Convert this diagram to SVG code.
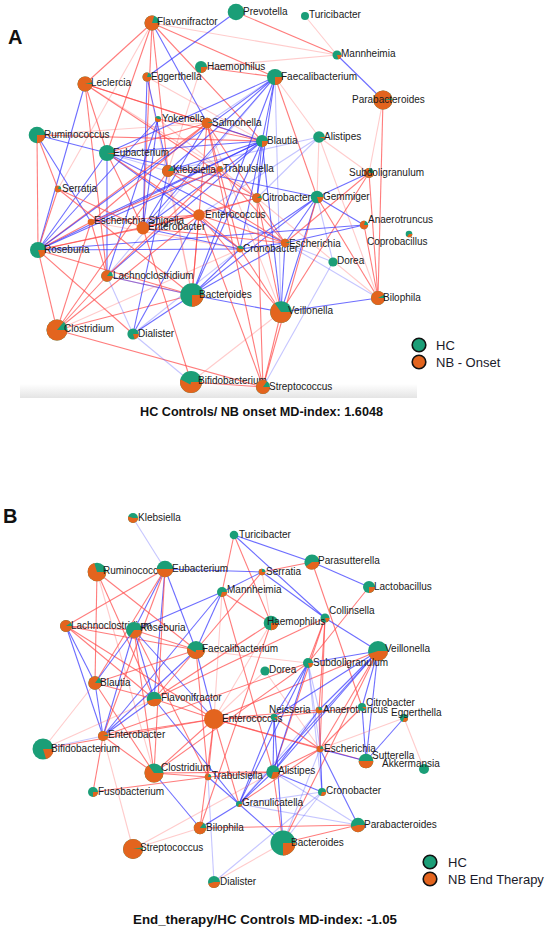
<svg xmlns="http://www.w3.org/2000/svg" width="550" height="931" viewBox="0 0 550 931">
<style>
.bg{fill:#fff}
.e line{stroke-width:1.1;fill:none}
.r{stroke:#ff4a4a;stroke-opacity:.72}
.rl{stroke:#ff5c5c;stroke-opacity:.32}
.b{stroke:#3434ff;stroke-opacity:.72}
.bl{stroke:#4a4aff;stroke-opacity:.32}
.g{fill:#1b9e77}
.o{fill:#e3641e}
.w{fill:none;stroke:#e3641e}
.t{font-family:"Liberation Sans",Arial,sans-serif;font-size:10px;fill:#1a1a1a}
.lg{font-family:"Liberation Sans",Arial,sans-serif;font-size:13px;fill:#1a1a2a}
.ttl{font-family:"Liberation Sans",Arial,sans-serif;font-weight:bold;fill:#111}
.lc{stroke:#111;stroke-width:1.6}
</style>
<defs>
<linearGradient id="band" x1="0" y1="0" x2="0" y2="1">
<stop offset="0" stop-color="#fff"/>
<stop offset="1" stop-color="#e4e4e4"/>
</linearGradient>
</defs>
<rect class="bg" x="0" y="0" width="550" height="931"/>
<rect x="20" y="384" width="397" height="14" fill="url(#band)"/>
<text class="ttl" x="8" y="44" font-size="20">A</text>
<text class="ttl" x="3" y="523" font-size="20">B</text>

<g id="connectors-a" class="e">
<line class="r" x1="152" y1="23" x2="85" y2="84"/>
<line class="r" x1="152" y1="23" x2="107" y2="153"/>
<line class="r" x1="152" y1="23" x2="143" y2="228"/>
<line class="r" x1="152" y1="23" x2="168" y2="171"/>
<line class="r" x1="152" y1="23" x2="275" y2="77"/>
<line class="r" x1="152" y1="23" x2="262" y2="141"/>
<line class="rl" x1="152" y1="23" x2="58" y2="189"/>
<line class="rl" x1="152" y1="23" x2="337" y2="55"/>
<line class="b" x1="152" y1="23" x2="207" y2="123"/>
<line class="b" x1="236" y1="12" x2="147" y2="77"/>
<line class="r" x1="236" y1="12" x2="337" y2="55"/>
<line class="rl" x1="305" y1="16" x2="337" y2="55"/>
<line class="b" x1="337" y1="55" x2="383" y2="100"/>
<line class="rl" x1="201" y1="67" x2="337" y2="55"/>
<line class="r" x1="201" y1="67" x2="275" y2="77"/>
<line class="rl" x1="201" y1="67" x2="168" y2="171"/>
<line class="b" x1="147" y1="77" x2="143" y2="228"/>
<line class="rl" x1="147" y1="77" x2="262" y2="141"/>
<line class="rl" x1="147" y1="77" x2="192" y2="295"/>
<line class="b" x1="147" y1="77" x2="168" y2="171"/>
<line class="b" x1="85" y1="84" x2="38" y2="250"/>
<line class="r" x1="85" y1="84" x2="107" y2="153"/>
<line class="r" x1="85" y1="84" x2="207" y2="123"/>
<line class="r" x1="85" y1="84" x2="262" y2="141"/>
<line class="rl" x1="85" y1="84" x2="220" y2="169"/>
<line class="r" x1="85" y1="84" x2="257" y2="198"/>
<line class="r" x1="85" y1="84" x2="107" y2="276"/>
<line class="r" x1="37" y1="135" x2="262" y2="141"/>
<line class="b" x1="37" y1="135" x2="107" y2="153"/>
<line class="r" x1="37" y1="135" x2="58" y2="189"/>
<line class="r" x1="37" y1="135" x2="38" y2="250"/>
<line class="b" x1="37" y1="135" x2="91" y2="222"/>
<line class="rl" x1="37" y1="135" x2="207" y2="123"/>
<line class="b" x1="107" y1="153" x2="275" y2="77"/>
<line class="b" x1="107" y1="153" x2="262" y2="141"/>
<line class="b" x1="107" y1="153" x2="317" y2="197"/>
<line class="b" x1="107" y1="153" x2="240" y2="249"/>
<line class="r" x1="107" y1="153" x2="199" y2="215"/>
<line class="b" x1="107" y1="153" x2="285" y2="243"/>
<line class="r" x1="107" y1="153" x2="207" y2="123"/>
<line class="b" x1="107" y1="153" x2="107" y2="276"/>
<line class="b" x1="107" y1="153" x2="38" y2="250"/>
<line class="r" x1="107" y1="153" x2="143" y2="228"/>
<line class="bl" x1="107" y1="153" x2="257" y2="198"/>
<line class="b" x1="158" y1="119" x2="38" y2="250"/>
<line class="b" x1="158" y1="119" x2="107" y2="276"/>
<line class="b" x1="158" y1="119" x2="143" y2="228"/>
<line class="r" x1="158" y1="119" x2="262" y2="141"/>
<line class="rl" x1="158" y1="119" x2="257" y2="198"/>
<line class="b" x1="207" y1="123" x2="262" y2="141"/>
<line class="r" x1="207" y1="123" x2="38" y2="250"/>
<line class="r" x1="207" y1="123" x2="91" y2="222"/>
<line class="r" x1="207" y1="123" x2="240" y2="249"/>
<line class="r" x1="207" y1="123" x2="285" y2="243"/>
<line class="r" x1="207" y1="123" x2="192" y2="295"/>
<line class="rl" x1="207" y1="123" x2="281" y2="312"/>
<line class="b" x1="207" y1="123" x2="143" y2="228"/>
<line class="b" x1="262" y1="141" x2="275" y2="77"/>
<line class="b" x1="262" y1="141" x2="192" y2="295"/>
<line class="b" x1="262" y1="141" x2="281" y2="312"/>
<line class="b" x1="262" y1="141" x2="240" y2="249"/>
<line class="b" x1="262" y1="141" x2="91" y2="222"/>
<line class="b" x1="262" y1="141" x2="143" y2="228"/>
<line class="b" x1="262" y1="141" x2="107" y2="276"/>
<line class="b" x1="262" y1="141" x2="38" y2="250"/>
<line class="b" x1="262" y1="141" x2="168" y2="171"/>
<line class="b" x1="262" y1="141" x2="257" y2="198"/>
<line class="rl" x1="275" y1="77" x2="319" y2="137"/>
<line class="r" x1="275" y1="77" x2="317" y2="197"/>
<line class="b" x1="275" y1="77" x2="192" y2="295"/>
<line class="b" x1="275" y1="77" x2="38" y2="250"/>
<line class="b" x1="275" y1="77" x2="143" y2="228"/>
<line class="bl" x1="275" y1="77" x2="107" y2="276"/>
<line class="b" x1="275" y1="77" x2="257" y2="198"/>
<line class="bl" x1="275" y1="77" x2="281" y2="312"/>
<line class="b" x1="275" y1="77" x2="168" y2="171"/>
<line class="bl" x1="275" y1="77" x2="207" y2="123"/>
<line class="rl" x1="319" y1="137" x2="369" y2="173"/>
<line class="rl" x1="319" y1="137" x2="317" y2="197"/>
<line class="bl" x1="319" y1="137" x2="257" y2="198"/>
<line class="rl" x1="319" y1="137" x2="378" y2="298"/>
<line class="bl" x1="319" y1="137" x2="168" y2="171"/>
<line class="bl" x1="319" y1="137" x2="199" y2="215"/>
<line class="rl" x1="383" y1="100" x2="369" y2="173"/>
<line class="r" x1="383" y1="100" x2="378" y2="298"/>
<line class="b" x1="369" y1="173" x2="317" y2="197"/>
<line class="r" x1="369" y1="173" x2="378" y2="298"/>
<line class="r" x1="369" y1="173" x2="281" y2="312"/>
<line class="r" x1="369" y1="173" x2="285" y2="243"/>
<line class="b" x1="317" y1="197" x2="364" y2="225"/>
<line class="b" x1="317" y1="197" x2="285" y2="243"/>
<line class="b" x1="317" y1="197" x2="281" y2="312"/>
<line class="r" x1="317" y1="197" x2="378" y2="298"/>
<line class="b" x1="317" y1="197" x2="192" y2="295"/>
<line class="b" x1="317" y1="197" x2="240" y2="249"/>
<line class="r" x1="317" y1="197" x2="263" y2="387"/>
<line class="bl" x1="317" y1="197" x2="333" y2="262"/>
<line class="b" x1="364" y1="225" x2="38" y2="250"/>
<line class="b" x1="364" y1="225" x2="285" y2="243"/>
<line class="r" x1="364" y1="225" x2="378" y2="298"/>
<line class="b" x1="378" y1="298" x2="281" y2="312"/>
<line class="bl" x1="378" y1="298" x2="285" y2="243"/>
<line class="rl" x1="378" y1="298" x2="257" y2="198"/>
<line class="b" x1="281" y1="312" x2="192" y2="295"/>
<line class="r" x1="281" y1="312" x2="263" y2="387"/>
<line class="rl" x1="281" y1="312" x2="191" y2="382"/>
<line class="b" x1="281" y1="312" x2="285" y2="243"/>
<line class="r" x1="281" y1="312" x2="257" y2="198"/>
<line class="b" x1="192" y1="295" x2="107" y2="276"/>
<line class="rl" x1="192" y1="295" x2="107" y2="276"/>
<line class="b" x1="192" y1="295" x2="133" y2="334"/>
<line class="r" x1="192" y1="295" x2="38" y2="250"/>
<line class="b" x1="192" y1="295" x2="240" y2="249"/>
<line class="b" x1="192" y1="295" x2="285" y2="243"/>
<line class="r" x1="192" y1="295" x2="199" y2="215"/>
<line class="r" x1="192" y1="295" x2="57" y2="330"/>
<line class="r" x1="57" y1="330" x2="263" y2="387"/>
<line class="r" x1="57" y1="330" x2="91" y2="222"/>
<line class="r" x1="57" y1="330" x2="199" y2="215"/>
<line class="rl" x1="57" y1="330" x2="240" y2="249"/>
<line class="r" x1="57" y1="330" x2="168" y2="171"/>
<line class="r" x1="57" y1="330" x2="107" y2="276"/>
<line class="bl" x1="133" y1="334" x2="107" y2="276"/>
<line class="r" x1="133" y1="334" x2="38" y2="250"/>
<line class="bl" x1="133" y1="334" x2="191" y2="382"/>
<line class="b" x1="133" y1="334" x2="199" y2="215"/>
<line class="b" x1="133" y1="334" x2="168" y2="171"/>
<line class="bl" x1="133" y1="334" x2="240" y2="249"/>
<line class="r" x1="191" y1="382" x2="263" y2="387"/>
<line class="r" x1="191" y1="382" x2="143" y2="228"/>
<line class="bl" x1="263" y1="387" x2="333" y2="262"/>
<line class="r" x1="263" y1="387" x2="199" y2="215"/>
<line class="r" x1="263" y1="387" x2="257" y2="198"/>
<line class="r" x1="263" y1="387" x2="207" y2="123"/>
<line class="b" x1="38" y1="250" x2="240" y2="249"/>
<line class="r" x1="38" y1="250" x2="91" y2="222"/>
<line class="r" x1="38" y1="250" x2="143" y2="228"/>
<line class="r" x1="38" y1="250" x2="199" y2="215"/>
<line class="r" x1="38" y1="250" x2="57" y2="330"/>
<line class="r" x1="91" y1="222" x2="199" y2="215"/>
<line class="rl" x1="91" y1="222" x2="240" y2="249"/>
<line class="r" x1="91" y1="222" x2="107" y2="276"/>
<line class="r" x1="143" y1="228" x2="199" y2="215"/>
<line class="b" x1="143" y1="228" x2="240" y2="249"/>
<line class="r" x1="143" y1="228" x2="285" y2="243"/>
<line class="r" x1="143" y1="228" x2="257" y2="198"/>
<line class="r" x1="168" y1="171" x2="220" y2="169"/>
<line class="r" x1="168" y1="171" x2="257" y2="198"/>
<line class="r" x1="168" y1="171" x2="285" y2="243"/>
<line class="rl" x1="168" y1="171" x2="192" y2="295"/>
<line class="b" x1="220" y1="169" x2="38" y2="250"/>
<line class="r" x1="220" y1="169" x2="91" y2="222"/>
<line class="r" x1="220" y1="169" x2="107" y2="276"/>
<line class="r" x1="220" y1="169" x2="285" y2="243"/>
<line class="r" x1="199" y1="215" x2="285" y2="243"/>
<line class="r" x1="199" y1="215" x2="240" y2="249"/>
<line class="r" x1="199" y1="215" x2="257" y2="198"/>
<line class="r" x1="199" y1="215" x2="281" y2="312"/>
<line class="b" x1="240" y1="249" x2="285" y2="243"/>
<line class="r" x1="240" y1="249" x2="281" y2="312"/>
<line class="bl" x1="333" y1="262" x2="285" y2="243"/>
<line class="r" x1="58" y1="189" x2="38" y2="250"/>
<line class="r" x1="58" y1="189" x2="143" y2="228"/>
<line class="r" x1="58" y1="189" x2="192" y2="295"/>
</g>

<g id="connectors-b" class="e">
<line class="bl" x1="133" y1="518" x2="165" y2="569"/>
<line class="b" x1="234" y1="535" x2="312" y2="562"/>
<line class="b" x1="234" y1="535" x2="325" y2="618"/>
<line class="r" x1="234" y1="535" x2="222" y2="592"/>
<line class="r" x1="234" y1="535" x2="271" y2="623"/>
<line class="b" x1="165" y1="569" x2="262" y2="572"/>
<line class="r" x1="165" y1="569" x2="66" y2="626"/>
<line class="b" x1="165" y1="569" x2="134" y2="630"/>
<line class="r" x1="165" y1="569" x2="95" y2="683"/>
<line class="b" x1="165" y1="569" x2="196" y2="650"/>
<line class="b" x1="165" y1="569" x2="154" y2="699"/>
<line class="r" x1="165" y1="569" x2="103" y2="736"/>
<line class="r" x1="165" y1="569" x2="154" y2="773"/>
<line class="r" x1="262" y1="572" x2="312" y2="562"/>
<line class="b" x1="262" y1="572" x2="222" y2="592"/>
<line class="b" x1="262" y1="572" x2="325" y2="618"/>
<line class="rl" x1="262" y1="572" x2="271" y2="623"/>
<line class="r" x1="262" y1="572" x2="196" y2="650"/>
<line class="b" x1="312" y1="562" x2="369" y2="587"/>
<line class="r" x1="312" y1="562" x2="362" y2="707"/>
<line class="r" x1="369" y1="587" x2="308" y2="663"/>
<line class="b" x1="222" y1="592" x2="134" y2="630"/>
<line class="b" x1="222" y1="592" x2="196" y2="650"/>
<line class="r" x1="222" y1="592" x2="271" y2="623"/>
<line class="rl" x1="222" y1="592" x2="214" y2="719"/>
<line class="b" x1="222" y1="592" x2="103" y2="736"/>
<line class="r" x1="222" y1="592" x2="273" y2="772"/>
<line class="b" x1="325" y1="618" x2="378" y2="651"/>
<line class="r" x1="325" y1="618" x2="308" y2="663"/>
<line class="r" x1="325" y1="618" x2="320" y2="749"/>
<line class="r" x1="325" y1="618" x2="319" y2="710"/>
<line class="r" x1="325" y1="618" x2="273" y2="772"/>
<line class="r" x1="325" y1="618" x2="154" y2="699"/>
<line class="r" x1="271" y1="623" x2="154" y2="699"/>
<line class="r" x1="271" y1="623" x2="200" y2="828"/>
<line class="rl" x1="271" y1="623" x2="214" y2="719"/>
<line class="r" x1="97" y1="572" x2="95" y2="683"/>
<line class="r" x1="97" y1="572" x2="154" y2="699"/>
<line class="r" x1="97" y1="572" x2="196" y2="650"/>
<line class="rl" x1="97" y1="572" x2="154" y2="773"/>
<line class="b" x1="66" y1="626" x2="95" y2="683"/>
<line class="b" x1="66" y1="626" x2="103" y2="736"/>
<line class="r" x1="66" y1="626" x2="196" y2="650"/>
<line class="r" x1="66" y1="626" x2="134" y2="630"/>
<line class="r" x1="66" y1="626" x2="214" y2="719"/>
<line class="r" x1="66" y1="626" x2="154" y2="699"/>
<line class="b" x1="134" y1="630" x2="95" y2="683"/>
<line class="r" x1="134" y1="630" x2="196" y2="650"/>
<line class="b" x1="134" y1="630" x2="214" y2="719"/>
<line class="b" x1="134" y1="630" x2="103" y2="736"/>
<line class="b" x1="134" y1="630" x2="154" y2="699"/>
<line class="r" x1="134" y1="630" x2="154" y2="773"/>
<line class="r" x1="134" y1="630" x2="208" y2="777"/>
<line class="b" x1="196" y1="650" x2="214" y2="719"/>
<line class="r" x1="196" y1="650" x2="154" y2="699"/>
<line class="b" x1="196" y1="650" x2="103" y2="736"/>
<line class="r" x1="196" y1="650" x2="208" y2="777"/>
<line class="r" x1="196" y1="650" x2="95" y2="683"/>
<line class="rl" x1="196" y1="650" x2="308" y2="663"/>
<line class="b" x1="378" y1="651" x2="308" y2="663"/>
<line class="b" x1="378" y1="651" x2="319" y2="710"/>
<line class="b" x1="378" y1="651" x2="362" y2="707"/>
<line class="b" x1="378" y1="651" x2="366" y2="761"/>
<line class="r" x1="378" y1="651" x2="320" y2="749"/>
<line class="b" x1="378" y1="651" x2="273" y2="772"/>
<line class="b" x1="378" y1="651" x2="274" y2="717"/>
<line class="r" x1="378" y1="651" x2="283" y2="843"/>
<line class="b" x1="378" y1="651" x2="239" y2="804"/>
<line class="r" x1="378" y1="651" x2="214" y2="719"/>
<line class="b" x1="308" y1="663" x2="274" y2="717"/>
<line class="b" x1="308" y1="663" x2="273" y2="772"/>
<line class="bl" x1="308" y1="663" x2="320" y2="749"/>
<line class="bl" x1="308" y1="663" x2="322" y2="792"/>
<line class="bl" x1="308" y1="663" x2="319" y2="710"/>
<line class="b" x1="308" y1="663" x2="239" y2="804"/>
<line class="r" x1="308" y1="663" x2="103" y2="736"/>
<line class="r" x1="308" y1="663" x2="154" y2="773"/>
<line class="rl" x1="265" y1="671" x2="320" y2="749"/>
<line class="rl" x1="265" y1="671" x2="214" y2="719"/>
<line class="b" x1="95" y1="683" x2="103" y2="736"/>
<line class="r" x1="95" y1="683" x2="154" y2="773"/>
<line class="r" x1="95" y1="683" x2="154" y2="699"/>
<line class="rl" x1="95" y1="683" x2="43" y2="749"/>
<line class="b" x1="154" y1="699" x2="103" y2="736"/>
<line class="r" x1="154" y1="699" x2="214" y2="719"/>
<line class="b" x1="154" y1="699" x2="239" y2="804"/>
<line class="rl" x1="154" y1="699" x2="43" y2="749"/>
<line class="r" x1="214" y1="719" x2="274" y2="717"/>
<line class="r" x1="214" y1="719" x2="319" y2="710"/>
<line class="r" x1="214" y1="719" x2="320" y2="749"/>
<line class="r" x1="214" y1="719" x2="154" y2="773"/>
<line class="r" x1="214" y1="719" x2="208" y2="777"/>
<line class="r" x1="214" y1="719" x2="239" y2="804"/>
<line class="r" x1="214" y1="719" x2="43" y2="749"/>
<line class="r" x1="214" y1="719" x2="200" y2="828"/>
<line class="r" x1="214" y1="719" x2="366" y2="761"/>
<line class="b" x1="274" y1="717" x2="283" y2="843"/>
<line class="b" x1="274" y1="717" x2="273" y2="772"/>
<line class="b" x1="274" y1="717" x2="239" y2="804"/>
<line class="r" x1="274" y1="717" x2="362" y2="707"/>
<line class="r" x1="274" y1="717" x2="320" y2="749"/>
<line class="r" x1="319" y1="710" x2="320" y2="749"/>
<line class="b" x1="319" y1="710" x2="273" y2="772"/>
<line class="bl" x1="319" y1="710" x2="239" y2="804"/>
<line class="bl" x1="319" y1="710" x2="322" y2="792"/>
<line class="b" x1="362" y1="707" x2="366" y2="761"/>
<line class="r" x1="362" y1="707" x2="320" y2="749"/>
<line class="b" x1="404" y1="718" x2="366" y2="761"/>
<line class="rl" x1="404" y1="718" x2="424" y2="769"/>
<line class="rl" x1="404" y1="718" x2="320" y2="749"/>
<line class="r" x1="103" y1="736" x2="93" y2="792"/>
<line class="rl" x1="103" y1="736" x2="133" y2="849"/>
<line class="bl" x1="103" y1="736" x2="43" y2="749"/>
<line class="r" x1="103" y1="736" x2="154" y2="773"/>
<line class="r" x1="103" y1="736" x2="214" y2="719"/>
<line class="b" x1="320" y1="749" x2="366" y2="761"/>
<line class="b" x1="320" y1="749" x2="322" y2="792"/>
<line class="b" x1="320" y1="749" x2="358" y2="825"/>
<line class="r" x1="320" y1="749" x2="273" y2="772"/>
<line class="r" x1="320" y1="749" x2="239" y2="804"/>
<line class="bl" x1="320" y1="749" x2="283" y2="843"/>
<line class="b" x1="154" y1="773" x2="200" y2="828"/>
<line class="r" x1="154" y1="773" x2="208" y2="777"/>
<line class="r" x1="154" y1="773" x2="273" y2="772"/>
<line class="b" x1="208" y1="777" x2="239" y2="804"/>
<line class="bl" x1="208" y1="777" x2="214" y2="882"/>
<line class="r" x1="208" y1="777" x2="93" y2="792"/>
<line class="r" x1="208" y1="777" x2="273" y2="772"/>
<line class="b" x1="273" y1="772" x2="322" y2="792"/>
<line class="r" x1="273" y1="772" x2="283" y2="843"/>
<line class="bl" x1="273" y1="772" x2="358" y2="825"/>
<line class="b" x1="273" y1="772" x2="239" y2="804"/>
<line class="b" x1="239" y1="804" x2="200" y2="828"/>
<line class="b" x1="239" y1="804" x2="283" y2="843"/>
<line class="bl" x1="239" y1="804" x2="322" y2="792"/>
<line class="bl" x1="239" y1="804" x2="358" y2="825"/>
<line class="r" x1="200" y1="828" x2="358" y2="825"/>
<line class="rl" x1="200" y1="828" x2="133" y2="849"/>
<line class="bl" x1="322" y1="792" x2="283" y2="843"/>
<line class="rl" x1="214" y1="882" x2="283" y2="843"/>
<line class="bl" x1="214" y1="882" x2="322" y2="792"/>
<line class="r" x1="358" y1="825" x2="283" y2="843"/>
<line class="rl" x1="133" y1="849" x2="273" y2="772"/>
</g>

<g id="nodes-a">
<g id="a-flavonifractor" transform="translate(152,23)"><circle class="g" r="7.5"/><circle class="w" r="3.75" stroke-width="7.5" pathLength="100" stroke-dasharray="80 100"/><text class="t" x="5" y="2">Flavonifractor</text></g>
<g id="a-prevotella" transform="translate(236,12)"><circle class="g" r="8.3"/><text class="t" x="7" y="3">Prevotella</text></g>
<g id="a-turicibacter" transform="translate(305,16)"><circle class="g" r="4"/><text class="t" x="4" y="2">Turicibacter</text></g>
<g id="a-mannheimia" transform="translate(337,55)"><circle class="g" r="4.5"/><circle class="w" r="2.25" stroke-width="4.5" pathLength="100" stroke-dasharray="20 100"/><text class="t" x="4" y="2">Mannheimia</text></g>
<g id="a-haemophilus" transform="translate(201,67)"><circle class="g" r="6"/><circle class="w" r="3" stroke-width="6" pathLength="100" stroke-dasharray="25 100"/><text class="t" x="6" y="2.5">Haemophilus</text></g>
<g id="a-eggerthella" transform="translate(147,77)"><circle class="g" r="4.5"/><circle class="w" r="2.25" stroke-width="4.5" pathLength="100" stroke-dasharray="80 100"/><text class="t" x="4" y="3">Eggerthella</text></g>
<g id="a-leclercia" transform="translate(85,84)"><circle class="g" r="7.5"/><circle class="w" r="3.75" stroke-width="7.5" pathLength="100" stroke-dasharray="96 100"/><text class="t" x="6" y="2">Leclercia</text></g>
<g id="a-faecalibacterium" transform="translate(275,77)"><circle class="g" r="8"/><circle class="w" r="4" stroke-width="8" pathLength="100" stroke-dasharray="25 100"/><text class="t" x="6" y="2.5">Faecalibacterium</text></g>
<g id="a-parabacteroides" transform="translate(383,100)"><circle class="g" r="9.5"/><circle class="w" r="4.75" stroke-width="9.5" pathLength="100" stroke-dasharray="97 100"/><text class="t" x="-31" y="3">Parabacteroides</text></g>
<g id="a-yokenella" transform="translate(158,119)"><circle class="g" r="3"/><circle class="w" r="1.5" stroke-width="3" pathLength="100" stroke-dasharray="60 100"/><text class="t" x="4" y="3">Yokenella</text></g>
<g id="a-salmonella" transform="translate(207,123)"><circle class="g" r="5.3"/><circle class="w" r="2.65" stroke-width="5.3" pathLength="100" stroke-dasharray="95 100"/><text class="t" x="5" y="3">Salmonella</text></g>
<g id="a-ruminococcus" transform="translate(37,135)"><circle class="g" r="8.3"/><circle class="w" r="4.15" stroke-width="8.3" pathLength="100" stroke-dasharray="25 100"/><text class="t" x="7" y="3">Ruminococcus</text></g>
<g id="a-blautia" transform="translate(262,141)"><circle class="g" r="6"/><circle class="w" r="3" stroke-width="6" pathLength="100" stroke-dasharray="25 100"/><text class="t" x="5" y="3">Blautia</text></g>
<g id="a-alistipes" transform="translate(319,137)"><circle class="g" r="5.8"/><circle class="w" r="2.9" stroke-width="5.8" pathLength="100" stroke-dasharray="5 100"/><text class="t" x="5" y="3">Alistipes</text></g>
<g id="a-eubacterium" transform="translate(107,153)"><circle class="g" r="8"/><circle class="w" r="4" stroke-width="8" pathLength="100" stroke-dasharray="3 100"/><text class="t" x="6" y="3">Eubacterium</text></g>
<g id="a-klebsiella" transform="translate(168,171)"><circle class="g" r="6"/><circle class="w" r="3" stroke-width="6" pathLength="100" stroke-dasharray="85 100"/><text class="t" x="5" y="2">Klebsiella</text></g>
<g id="a-trabulsiella" transform="translate(220,169)"><circle class="g" r="3"/><circle class="w" r="1.5" stroke-width="3" pathLength="100" stroke-dasharray="90 100"/><text class="t" x="3" y="3">Trabulsiella</text></g>
<g id="a-subdoligranulum" transform="translate(369,173)"><circle class="g" r="5"/><circle class="w" r="2.5" stroke-width="5" pathLength="100" stroke-dasharray="75 100"/><text class="t" x="-20" y="3">Subdoligranulum</text></g>
<g id="a-serratia" transform="translate(58,189)"><circle class="g" r="3.2"/><circle class="w" r="1.6" stroke-width="3.2" pathLength="100" stroke-dasharray="80 100"/><text class="t" x="4" y="3">Serratia</text></g>
<g id="a-citrobacter" transform="translate(257,198)"><circle class="g" r="4.8"/><circle class="w" r="2.4" stroke-width="4.8" pathLength="100" stroke-dasharray="90 100"/><text class="t" x="5" y="2.5">Citrobacter</text></g>
<g id="a-gemmiger" transform="translate(317,197)"><circle class="g" r="6.3"/><circle class="w" r="3.15" stroke-width="6.3" pathLength="100" stroke-dasharray="20 100"/><text class="t" x="6" y="2.5">Gemmiger</text></g>
<g id="a-enterococcus" transform="translate(199,215)"><circle class="o" r="5.8"/><text class="t" x="6" y="3">Enterococcus</text></g>
<g id="a-escherichia-shigella" transform="translate(91,222)"><circle class="o" r="3.3"/><text class="t" x="3" y="2">Escherichia Shigella</text></g>
<g id="a-enterobacter" transform="translate(143,228)"><circle class="o" r="6.5"/><text class="t" x="5" y="1.5">Enterobacter</text></g>
<g id="a-anaerotruncus" transform="translate(364,225)"><circle class="g" r="4.2"/><circle class="w" r="2.1" stroke-width="4.2" pathLength="100" stroke-dasharray="80 100"/><text class="t" x="4" y="-2">Anaerotruncus</text></g>
<g id="a-coprobacillus" transform="translate(409,234)"><circle class="g" r="3.3"/><circle class="w" r="1.65" stroke-width="3.3" pathLength="100" stroke-dasharray="35 100"/><text class="t" x="-42" y="10.5">Coprobacillus</text></g>
<g id="a-roseburia" transform="translate(38,250)"><circle class="g" r="8"/><circle class="w" r="4" stroke-width="8" pathLength="100" stroke-dasharray="20 100"/><text class="t" x="6" y="3">Roseburia</text></g>
<g id="a-cronobacter" transform="translate(240,249)"><circle class="g" r="3.3"/><circle class="w" r="1.65" stroke-width="3.3" pathLength="100" stroke-dasharray="60 100"/><text class="t" x="3" y="2.5">Cronobacter</text></g>
<g id="a-escherichia" transform="translate(285,243)"><circle class="g" r="4.2"/><circle class="w" r="2.1" stroke-width="4.2" pathLength="100" stroke-dasharray="95 100"/><text class="t" x="4" y="3.5">Escherichia</text></g>
<g id="a-dorea" transform="translate(333,262)"><circle class="g" r="4.6"/><text class="t" x="4" y="1.5">Dorea</text></g>
<g id="a-lachnoclostridium" transform="translate(107,276)"><circle class="g" r="5.8"/><circle class="w" r="2.9" stroke-width="5.8" pathLength="100" stroke-dasharray="85 100"/><text class="t" x="6" y="2.5">Lachnoclostridium</text></g>
<g id="a-bacteroides" transform="translate(192,295)"><circle class="g" r="11.7"/><circle class="w" r="5.85" stroke-width="11.7" pathLength="100" stroke-dasharray="25 100"/><text class="t" x="7" y="2.5">Bacteroides</text></g>
<g id="a-bilophila" transform="translate(378,298)"><circle class="g" r="7"/><circle class="w" r="3.5" stroke-width="7" pathLength="100" stroke-dasharray="92 100"/><text class="t" x="5" y="2.5">Bilophila</text></g>
<g id="a-veillonella" transform="translate(281,312)"><circle class="g" r="10.8"/><circle class="w" r="5.4" stroke-width="10.8" pathLength="100" stroke-dasharray="65 100"/><text class="t" x="7" y="1.5">Veillonella</text></g>
<g id="a-clostridium" transform="translate(57,330)"><circle class="g" r="10.5"/><circle class="w" r="5.25" stroke-width="10.5" pathLength="100" stroke-dasharray="86 100"/><text class="t" x="7" y="1.5">Clostridium</text></g>
<g id="a-dialister" transform="translate(133,334)"><circle class="g" r="5.6"/><circle class="w" r="2.8" stroke-width="5.6" pathLength="100" stroke-dasharray="20 100"/><text class="t" x="5" y="2.5">Dialister</text></g>
<g id="a-bifidobacterium" transform="translate(191,382)"><circle class="g" r="11"/><circle class="w" r="5.5" stroke-width="11" pathLength="100" stroke-dasharray="50 100"/><text class="t" x="7" y="1.5">Bifidobacterium</text></g>
<g id="a-streptococcus" transform="translate(263,387)"><circle class="g" r="7"/><circle class="w" r="3.5" stroke-width="7" pathLength="100" stroke-dasharray="85 100"/><text class="t" x="6" y="2.5">Streptococcus</text></g>
</g>

<g id="legend-a">
<circle class="g lc" cx="419" cy="345" r="6.8"/>
<circle class="o lc" cx="419" cy="362" r="6.8"/>
<text class="lg" x="436" y="350">HC</text>
<text class="lg" x="436" y="367">NB - Onset</text>
</g>
<text id="title-a" class="ttl" x="140" y="415.5" font-size="12.5" textLength="243" lengthAdjust="spacingAndGlyphs">HC Controls/ NB onset MD-index: 1.6048</text>

<g id="nodes-b">
<g id="b-klebsiella" transform="translate(133,518)"><circle class="g" r="5"/><circle class="w" r="2.5" stroke-width="5" pathLength="100" stroke-dasharray="55 100"/><text class="t" x="5" y="2.5">Klebsiella</text></g>
<g id="b-turicibacter" transform="translate(234,535)"><circle class="g" r="4.3"/><text class="t" x="5" y="2.5">Turicibacter</text></g>
<g id="b-ruminococcus" transform="translate(97,572)"><circle class="g" r="9.3"/><circle class="w" r="4.65" stroke-width="9.3" pathLength="100" stroke-dasharray="70 100"/><text class="t" x="6" y="1.5">Ruminococcus</text></g>
<g id="b-eubacterium" transform="translate(165,569)"><circle class="g" r="8.3"/><circle class="w" r="4.15" stroke-width="8.3" pathLength="100" stroke-dasharray="50 100"/><text class="t" x="7" y="2.5">Eubacterium</text></g>
<g id="b-serratia" transform="translate(262,572)"><circle class="g" r="3.3"/><circle class="w" r="1.65" stroke-width="3.3" pathLength="100" stroke-dasharray="75 100"/><text class="t" x="4" y="2.5">Serratia</text></g>
<g id="b-parasutterella" transform="translate(312,562)"><circle class="g" r="7.6"/><circle class="w" r="3.8" stroke-width="7.6" pathLength="100" stroke-dasharray="40 100"/><text class="t" x="6" y="1.5">Parasutterella</text></g>
<g id="b-lactobacillus" transform="translate(369,587)"><circle class="g" r="6"/><circle class="w" r="3" stroke-width="6" pathLength="100" stroke-dasharray="25 100"/><text class="t" x="5" y="2.5">Lactobacillus</text></g>
<g id="b-mannheimia" transform="translate(222,592)"><circle class="g" r="5"/><circle class="w" r="2.5" stroke-width="5" pathLength="100" stroke-dasharray="30 100"/><text class="t" x="5" y="0.5">Mannheimia</text></g>
<g id="b-lachnoclostridium" transform="translate(66,626)"><circle class="g" r="6"/><circle class="w" r="3" stroke-width="6" pathLength="100" stroke-dasharray="90 100"/><text class="t" x="5" y="2.5">Lachnoclostridium</text></g>
<g id="b-roseburia" transform="translate(134,630)"><circle class="g" r="8"/><circle class="w" r="4" stroke-width="8" pathLength="100" stroke-dasharray="35 100"/><text class="t" x="6" y="0.5">Roseburia</text></g>
<g id="b-collinsella" transform="translate(325,618)"><circle class="g" r="4.5"/><circle class="w" r="2.25" stroke-width="4.5" pathLength="100" stroke-dasharray="20 100"/><text class="t" x="4" y="-4.5">Collinsella</text></g>
<g id="b-haemophilus" transform="translate(271,623)"><circle class="g" r="7.3"/><circle class="w" r="3.65" stroke-width="7.3" pathLength="100" stroke-dasharray="25 100"/><text class="t" x="-4" y="1.5">Haemophilus</text></g>
<g id="b-faecalibacterium" transform="translate(196,650)"><circle class="g" r="9"/><circle class="w" r="4.5" stroke-width="9" pathLength="100" stroke-dasharray="50 100"/><text class="t" x="6" y="1.5">Faecalibacterium</text></g>
<g id="b-veillonella" transform="translate(378,651)"><circle class="g" r="10"/><circle class="w" r="5" stroke-width="10" pathLength="100" stroke-dasharray="45 100"/><text class="t" x="7" y="0.5">Veillonella</text></g>
<g id="b-dorea" transform="translate(265,671)"><circle class="g" r="4.6"/><text class="t" x="4" y="1.5">Dorea</text></g>
<g id="b-subdoligranulum" transform="translate(308,663)"><circle class="g" r="5"/><circle class="w" r="2.5" stroke-width="5" pathLength="100" stroke-dasharray="20 100"/><text class="t" x="5" y="2.5">Subdoligranulum</text></g>
<g id="b-blautia" transform="translate(95,683)"><circle class="g" r="6.7"/><circle class="w" r="3.35" stroke-width="6.7" pathLength="100" stroke-dasharray="85 100"/><text class="t" x="5" y="2.5">Blautia</text></g>
<g id="b-flavonifractor" transform="translate(154,699)"><circle class="g" r="7.3"/><circle class="w" r="3.65" stroke-width="7.3" pathLength="100" stroke-dasharray="45 100"/><text class="t" x="7" y="1.5">Flavonifractor</text></g>
<g id="b-enterococcus" transform="translate(214,719)"><circle class="o" r="10"/><text class="t" x="8" y="2.5">Enterococcus</text></g>
<g id="b-neisseria" transform="translate(274,717)"><circle class="g" r="3.3"/><circle class="w" r="1.65" stroke-width="3.3" pathLength="100" stroke-dasharray="10 100"/><text class="t" x="-5" y="-4.5">Neisseria</text></g>
<g id="b-anaerotruncus" transform="translate(319,710)"><circle class="g" r="3.3"/><circle class="w" r="1.65" stroke-width="3.3" pathLength="100" stroke-dasharray="70 100"/><text class="t" x="4" y="2.5">Anaerotruncus</text></g>
<g id="b-citrobacter" transform="translate(362,707)"><circle class="g" r="4"/><circle class="w" r="2" stroke-width="4" pathLength="100" stroke-dasharray="10 100"/><text class="t" x="4" y="-1.5">Citrobacter</text></g>
<g id="b-eggerthella" transform="translate(404,718)"><circle class="g" r="4"/><circle class="w" r="2" stroke-width="4" pathLength="100" stroke-dasharray="30 100"/><text class="t" x="-13" y="-2.5">Eggerthella</text></g>
<g id="b-enterobacter" transform="translate(103,736)"><circle class="g" r="5"/><circle class="w" r="2.5" stroke-width="5" pathLength="100" stroke-dasharray="95 100"/><text class="t" x="5" y="1.5">Enterobacter</text></g>
<g id="b-bifidobacterium" transform="translate(43,749)"><circle class="g" r="10.5"/><circle class="w" r="5.25" stroke-width="10.5" pathLength="100" stroke-dasharray="20 100"/><text class="t" x="8" y="2.5">Bifidobacterium</text></g>
<g id="b-escherichia" transform="translate(320,749)"><circle class="g" r="3.3"/><circle class="w" r="1.65" stroke-width="3.3" pathLength="100" stroke-dasharray="80 100"/><text class="t" x="4" y="2.5">Escherichia</text></g>
<g id="b-sutterella" transform="translate(366,761)"><circle class="g" r="7.3"/><circle class="w" r="3.65" stroke-width="7.3" pathLength="100" stroke-dasharray="50 100"/><text class="t" x="6" y="-2.5">Sutterella</text></g>
<g id="b-akkermansia" transform="translate(424,769)"><circle class="g" r="5"/><text class="t" x="-42" y="-2.5">Akkermansia</text></g>
<g id="b-clostridium" transform="translate(154,773)"><circle class="g" r="9.5"/><circle class="w" r="4.75" stroke-width="9.5" pathLength="100" stroke-dasharray="65 100"/><text class="t" x="7" y="-2.5">Clostridium</text></g>
<g id="b-trabulsiella" transform="translate(208,777)"><circle class="g" r="3.2"/><circle class="w" r="1.6" stroke-width="3.2" pathLength="100" stroke-dasharray="80 100"/><text class="t" x="4" y="1.5">Trabulsiella</text></g>
<g id="b-alistipes" transform="translate(273,772)"><circle class="g" r="6.7"/><circle class="w" r="3.35" stroke-width="6.7" pathLength="100" stroke-dasharray="30 100"/><text class="t" x="5" y="1.5">Alistipes</text></g>
<g id="b-fusobacterium" transform="translate(93,792)"><circle class="g" r="5"/><circle class="w" r="2.5" stroke-width="5" pathLength="100" stroke-dasharray="25 100"/><text class="t" x="5" y="2.5">Fusobacterium</text></g>
<g id="b-cronobacter" transform="translate(322,792)"><circle class="g" r="4"/><circle class="w" r="2" stroke-width="4" pathLength="100" stroke-dasharray="30 100"/><text class="t" x="4" y="1.5">Cronobacter</text></g>
<g id="b-granulicatella" transform="translate(239,804)"><circle class="g" r="3"/><circle class="w" r="1.5" stroke-width="3" pathLength="100" stroke-dasharray="30 100"/><text class="t" x="3" y="1.5">Granulicatella</text></g>
<g id="b-bilophila" transform="translate(200,828)"><circle class="g" r="6.2"/><circle class="w" r="3.1" stroke-width="6.2" pathLength="100" stroke-dasharray="85 100"/><text class="t" x="6" y="2.5">Bilophila</text></g>
<g id="b-parabacteroides" transform="translate(358,825)"><circle class="g" r="7.2"/><circle class="w" r="3.6" stroke-width="7.2" pathLength="100" stroke-dasharray="45 100"/><text class="t" x="6" y="2.5">Parabacteroides</text></g>
<g id="b-streptococcus" transform="translate(133,849)"><circle class="g" r="10"/><circle class="w" r="5" stroke-width="10" pathLength="100" stroke-dasharray="97 100"/><text class="t" x="7" y="1.5">Streptococcus</text></g>
<g id="b-bacteroides" transform="translate(283,843)"><circle class="g" r="12.5"/><circle class="w" r="6.25" stroke-width="12.5" pathLength="100" stroke-dasharray="25 100"/><text class="t" x="8" y="2.5">Bacteroides</text></g>
<g id="b-dialister" transform="translate(214,882)"><circle class="g" r="6"/><circle class="w" r="3" stroke-width="6" pathLength="100" stroke-dasharray="45 100"/><text class="t" x="6" y="2.5">Dialister</text></g>
</g>

<g id="legend-b">
<circle class="g lc" cx="430" cy="862" r="6.8"/>
<circle class="o lc" cx="430" cy="879" r="6.8"/>
<text class="lg" x="448" y="866.5">HC</text>
<text class="lg" x="448" y="883.5">NB End Therapy</text>
</g>
<text id="title-b" class="ttl" x="133" y="924" font-size="13" textLength="264" lengthAdjust="spacingAndGlyphs">End_therapy/HC Controls MD-index: -1.05</text>
</svg>
